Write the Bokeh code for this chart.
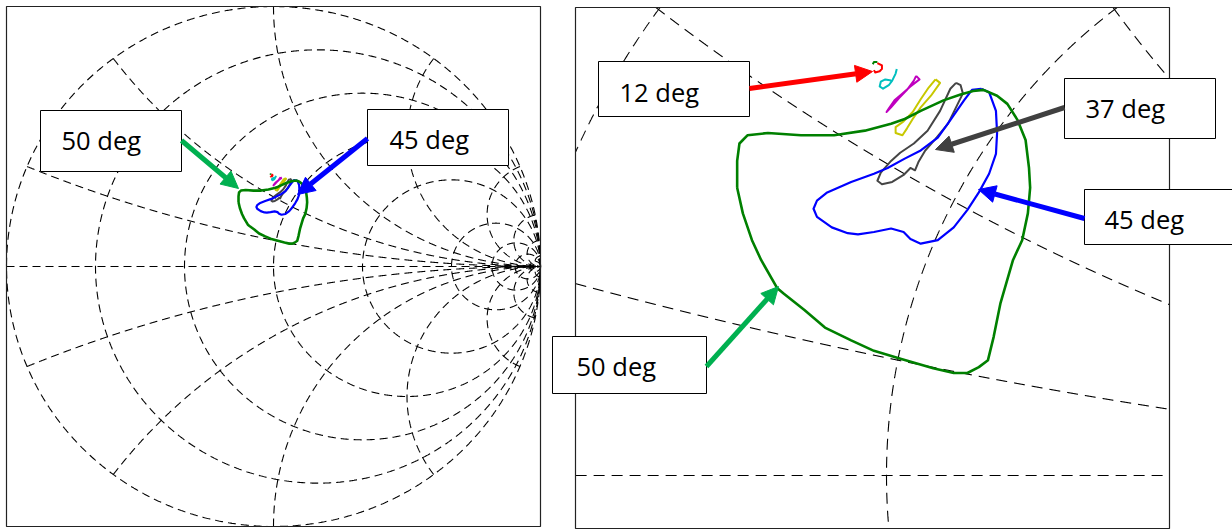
import numpy as np
from bokeh.plotting import figure
from bokeh.layouts import row
from bokeh.models import Range1d, Arrow, NormalHead
from bokeh.core.properties import value
from bokeh.embed import file_html
from bokeh.resources import INLINE

# Smith chart grid: constant-resistance circles and constant-reactance arcs
resistance_values = [0.0, 0.2, 0.5, 1.0, 2.0, 5.0, 10.0, 20.0, 50.0]
reactance_values = [0.2, 0.5, 1.0, 2.0, 5.0, 10.0, 20.0, 50.0]

# Reflection-coefficient loci (real, imaginary) for each incidence angle
refl_50deg_re = [-0.131, -0.131, -0.129, -0.122, -0.104, -0.075, -0.046, -0.019, 0.004, 0.016,
                 0.030, 0.050, 0.065, 0.076, 0.085, 0.097, 0.106, 0.115, 0.122, 0.125,
                 0.126, 0.124, 0.119, 0.111, 0.100, 0.094, 0.089, 0.081, 0.071, 0.059,
                 0.041, 0.013, -0.011, -0.031, -0.054, -0.072, -0.090, -0.096, -0.110, -0.118,
                 -0.126, -0.131]
refl_50deg_im = [0.247, 0.270, 0.285, 0.292, 0.294, 0.292, 0.292, 0.296, 0.302, 0.306,
                 0.313, 0.322, 0.327, 0.330, 0.331, 0.326, 0.319, 0.305, 0.288, 0.264,
                 0.247, 0.225, 0.202, 0.185, 0.148, 0.119, 0.099, 0.093, 0.088, 0.088,
                 0.092, 0.100, 0.107, 0.116, 0.127, 0.142, 0.156, 0.161, 0.185, 0.202,
                 0.225, 0.247]

refl_45deg_re = [0.083, 0.090, 0.096, 0.097, 0.096, 0.090, 0.081, 0.071, 0.059, 0.045,
                 0.030, 0.021, 0.015, 0.004, -0.011, -0.025, -0.034, -0.048, -0.061, -0.064,
                 -0.061, -0.052, -0.031, -0.011, 0.001, 0.016, 0.030, 0.045, 0.056, 0.068,
                 0.075, 0.083]
refl_45deg_im = [0.332, 0.329, 0.313, 0.294, 0.276, 0.259, 0.243, 0.228, 0.213, 0.202,
                 0.199, 0.203, 0.209, 0.212, 0.209, 0.207, 0.208, 0.213, 0.222, 0.229,
                 0.236, 0.243, 0.252, 0.259, 0.264, 0.272, 0.279, 0.290, 0.305, 0.322,
                 0.331, 0.332]

refl_37deg_re = [0.061, 0.056, 0.047, 0.036, 0.024, 0.012, 0.004, -0.005, -0.008, -0.004,
                 0.005, 0.015, 0.021, 0.025, 0.028, 0.034, 0.043, 0.054, 0.061, 0.067,
                 0.065, 0.061]
refl_37deg_im = [0.337, 0.332, 0.313, 0.296, 0.285, 0.277, 0.270, 0.260, 0.253, 0.250,
                 0.252, 0.258, 0.264, 0.262, 0.269, 0.279, 0.289, 0.302, 0.316, 0.328,
                 0.335, 0.337]

refl_30deg_re = [0.043, 0.047, 0.039, 0.030, 0.023, 0.018, 0.014, 0.008, 0.008, 0.015,
                 0.023, 0.030, 0.037, 0.043]
refl_30deg_im = [0.340, 0.337, 0.326, 0.316, 0.306, 0.298, 0.292, 0.294, 0.299, 0.304,
                 0.312, 0.323, 0.333, 0.340]

refl_24deg_re = [0.026, 0.029, 0.021, 0.014, 0.007, 0.002, 0.000, 0.004, 0.011, 0.018,
                 0.024, 0.026]
refl_24deg_im = [0.343, 0.340, 0.334, 0.328, 0.322, 0.315, 0.312, 0.316, 0.324, 0.331,
                 0.339, 0.343]

refl_18deg_re = [0.009, 0.008, 0.005, 0.002, -0.003, -0.006, -0.005, -0.001, 0.004]
refl_18deg_im = [0.349, 0.345, 0.339, 0.335, 0.332, 0.334, 0.338, 0.340, 0.339]

refl_12deg_re = [-0.008, -0.004, -0.004, -0.006, -0.010, -0.011]
refl_12deg_im = [0.354, 0.352, 0.349, 0.347, 0.346, 0.348]

refl_6deg_re = [-0.012, -0.011, -0.008]
refl_6deg_im = [0.353, 0.355, 0.355]

series = [
    (refl_6deg_re, refl_6deg_im, "#008000", 2.0),
    (refl_12deg_re, refl_12deg_im, "#ff0000", 2.0),
    (refl_18deg_re, refl_18deg_im, "#00bfbf", 2.0),
    (refl_24deg_re, refl_24deg_im, "#bf00bf", 2.0),
    (refl_30deg_re, refl_30deg_im, "#c8c800", 2.0),
    (refl_37deg_re, refl_37deg_im, "#454545", 2.0),
    (refl_45deg_re, refl_45deg_im, "#0000ff", 2.2),
    (refl_50deg_re, refl_50deg_im, "#008000", 2.6),
]

FONT = value("Open Sans")


def smith_paths(n_circle, n_arc):
    paths = []
    phi = np.linspace(0.0, 2.0 * np.pi, n_circle)
    for r in resistance_values:
        c, rad = r / (1.0 + r), 1.0 / (1.0 + r)
        paths.append((c + rad * np.cos(phi), rad * np.sin(phi)))
    theta = np.linspace(0.0, np.pi / 2.0, n_arc, endpoint=False)
    rr = np.tan(theta)
    for xv in reactance_values:
        for s in (1.0, -1.0):
            g = (rr + 1j * s * xv - 1.0) / (rr + 1j * s * xv + 1.0)
            paths.append((np.r_[g.real, 1.0], np.r_[g.imag, 0.0]))
    paths.append((np.linspace(-1.0, 1.0, n_arc), np.zeros(n_arc)))
    return paths


def clipped(paths, x0, x1, y0, y1):
    xs, ys = [], []
    for gx, gy in paths:
        inside = (gx >= x0) & (gx <= x1) & (gy >= y0) & (gy <= y1)
        idx = np.flatnonzero(inside)
        if idx.size < 2:
            continue
        cuts = np.flatnonzero(np.diff(idx) > 1)
        starts = np.r_[idx[0], idx[cuts + 1]]
        ends = np.r_[idx[cuts], idx[-1]]
        for s, e in zip(starts, ends):
            if e > s:
                xs.append(np.round(gx[s:e + 1], 5).tolist())
                ys.append(np.round(gy[s:e + 1], 5).tolist())
    return xs, ys


def blank_figure(w, h, xr, yr):
    p = figure(width=w, height=h, x_range=Range1d(*xr), y_range=Range1d(*yr),
               output_backend="svg", toolbar_location=None, min_border=0,
               x_axis_location=None, y_axis_location=None)
    p.grid.visible = False
    p.outline_line_color = None
    p.background_fill_color = "white"
    p.border_fill_color = "white"
    return p


def add_callout(p, conv, text, box, text_pos, arrow, color):
    (l, t), (r, b) = conv(box[0], box[1]), conv(box[2], box[3])
    p.quad(left=[l], right=[r], top=[t], bottom=[b], fill_color="white",
           line_color="black", line_width=1)
    tx, ty = conv(*text_pos)
    p.text(x=[tx], y=[ty], text=[text], text_font=FONT, text_font_size="25.5px",
           text_baseline="middle", text_align="left", text_color="black")
    xs, ys = conv(*arrow[0])
    xe, ye = conv(*arrow[1])
    p.add_layout(Arrow(x_start=xs, y_start=ys, x_end=xe, y_end=ye, line_width=5,
                       line_color=color,
                       end=NormalHead(size=17, fill_color=color, line_color=color,
                                      line_width=1)))


def draw_traces(p):
    for re, im, color, lw in series:
        p.line(re, im, line_color=color, line_width=lw, line_join="round")


# ---------------- full chart ----------------
def full_px(px, py):
    return (px - 273.0) / 267.0, (266.0 - py) / 260.0


p1 = blank_figure(546, 529, (full_px(0, 0)[0], full_px(546, 0)[0]),
                  (full_px(0, 529)[1], full_px(0, 0)[1]))
gx, gy = clipped(smith_paths(1500, 1500), -1.0001, 1.0001, -1.0001, 1.0001)
p1.multi_line(gx, gy, line_color="#000000", line_width=1.1, line_dash="8 5")
p1.quad(left=[-1], right=[1], top=[1], bottom=[-1], fill_color=None,
        line_color="#222222", line_width=1.2)
draw_traces(p1)
add_callout(p1, full_px, "50 deg", (40, 110, 181, 171), (61, 139),
            ((181, 140), (238, 188)), "#00b050")
add_callout(p1, full_px, "45 deg", (367, 109, 508, 165), (389, 138),
            ((367, 138), (297, 194)), "#0000ff")


# ---------------- zoomed chart ----------------
def zoom_px(px, py):
    return (px - 886.0) / 1140.0, (475.0 - py) / 1165.0


bl, bt = zoom_px(575, 7)
br, bb = zoom_px(1169, 528)
p2 = blank_figure(686, 529, (zoom_px(546, 0)[0], zoom_px(1232, 0)[0]),
                  (zoom_px(0, 529)[1], zoom_px(0, 0)[1]))
gx, gy = clipped(smith_paths(16000, 16000), bl, br, bb, bt)
p2.multi_line(gx, gy, line_color="#000000", line_width=1.1, line_dash="11 7")
p2.quad(left=[bl], right=[br], top=[bt], bottom=[bb], fill_color=None,
        line_color="#222222", line_width=1.2)
draw_traces(p2)
add_callout(p2, zoom_px, "12 deg", (598, 61, 749, 116), (619, 91),
            ((749, 88), (872, 71)), "#ff0000")
add_callout(p2, zoom_px, "37 deg", (1064, 78, 1215, 138), (1085, 107),
            ((1064, 107), (935, 149)), "#404040")
add_callout(p2, zoom_px, "45 deg", (1084, 189, 1240, 244), (1104, 218),
            ((1084, 218), (978, 189)), "#0000ff")
add_callout(p2, zoom_px, "50 deg", (552, 336, 706, 393), (576, 365),
            ((706, 366), (778, 286)), "#00b050")

layout = row(p1, p2)
open("out.html", "w").write(file_html(layout, INLINE))
